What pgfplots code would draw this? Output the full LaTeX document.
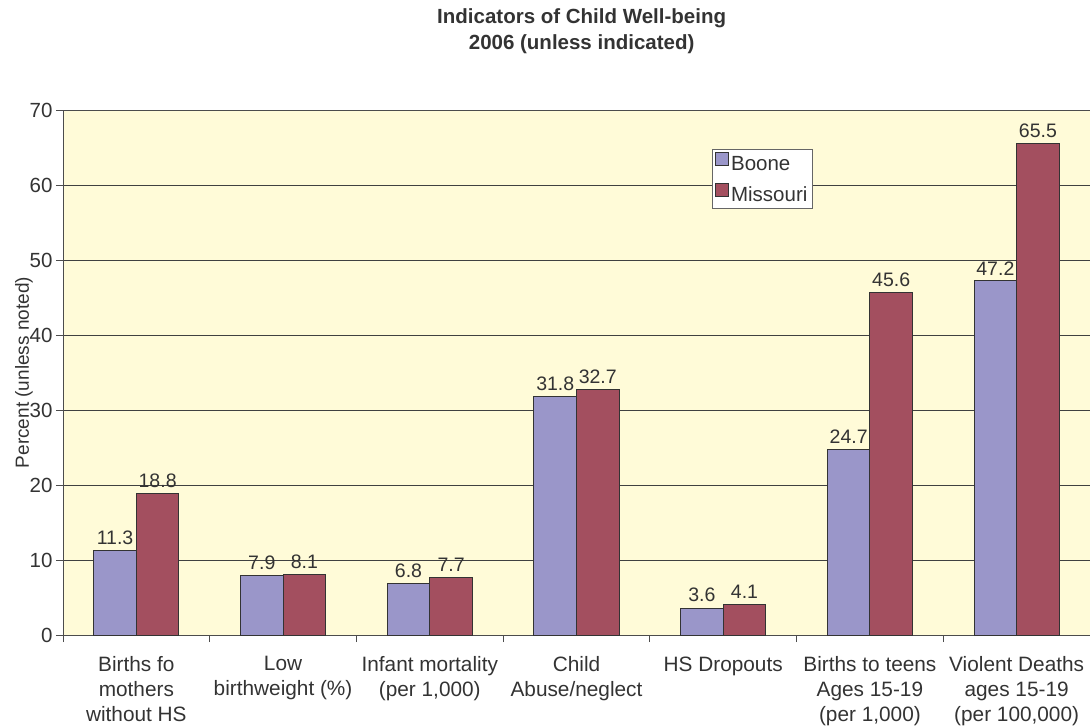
\documentclass[border=0pt]{standalone}
\usepackage{pgfplots}
\pgfplotsset{compat=1.18}
\usepackage{fontspec}
\setmainfont{Liberation Sans}
\definecolor{boone}{HTML}{9A96C9}
\definecolor{mo}{HTML}{A34F5F}
\definecolor{bg}{HTML}{FFFBD8}
\definecolor{txt}{HTML}{333333}
\begin{document}
\begin{tikzpicture}
\begin{axis}[
  scale only axis,
  width=1027pt, height=525pt,
  xmin=-0.5, xmax=6.5, ymin=0, ymax=70,
  axis background/.style={fill=bg},
  ytick={0,10,...,70},
  ymajorgrids, grid style={black!75, line width=0.6pt},
  xtick={0,...,6},
  xticklabels={{Births fo\\mothers\\without HS},{Low\\birthweight (\%)},{Infant mortality\\(per 1,000)},{Child\\Abuse/neglect},{HS Dropouts},{Births to teens\\Ages 15-19\\(per 1,000)},{Violent Deaths\\ages 15-19\\(per 100,000)}},
  minor xtick={-0.5,0.5,...,6.5},
  major x tick style={draw=none},
  tick align=outside, tick pos=left,
  major tick length=7pt, minor tick length=7pt,
  tick style={black!70, line width=0.8pt},
  axis line style={black!70, line width=0.9pt},
  xticklabel style={align=center, font=\fontsize{20.8}{25}\selectfont, text=txt, yshift=-11pt},
  yticklabel style={font=\fontsize{20.5}{24}\selectfont, text=txt},
  /pgf/number format/assume math mode=true,
  ylabel={Percent (unless noted)},
  ylabel style={font=\fontsize{19}{24}\selectfont, text=txt, at={(axis description cs:-0.038,0.5)}, anchor=center},
  title={Indicators of Child Well-being\\2006 (unless indicated)},
  title style={font=\bfseries\fontsize{20.5}{25.5}\selectfont, text=txt, align=center, at={(axis description cs:0.505,1)}, anchor=south, yshift=47pt},
  ybar, bar width=0.29,
  nodes near coords,
  nodes near coords style={font=\fontsize{19.5}{24}\selectfont, text=txt, yshift=2pt},
  point meta=y,
  every node near coord/.append style={/pgf/number format/.cd, fixed, fixed zerofill, precision=1},
  legend style={at={(axis description cs:0.632,0.926)}, anchor=north west, draw=black!60, fill=white, font=\fontsize{20.5}{24}\selectfont, text=txt, inner sep=3pt, row sep=8.5pt, cells={anchor=west}},
  legend image code/.code={\draw[#1, draw=black!80, line width=0.8pt] (0pt,-1pt) rectangle (13pt,12pt);},
]
\addplot[fill=boone, draw=black!80, line width=1pt, bar shift=-0.145] coordinates {(0,11.3) (1,7.9) (2,6.8) (3,31.8) (4,3.6) (5,24.7) (6,47.2)};
\addplot[fill=mo, draw=black!80, line width=1pt, bar shift=0.145] coordinates {(0,18.8) (1,8.1) (2,7.7) (3,32.7) (4,4.1) (5,45.6) (6,65.5)};
\legend{Boone,Missouri}
\end{axis}
\pgfresetboundingbox
\path ([shift={(-63pt,-92pt)}]current axis.south west) rectangle ([shift={(0pt,110pt)}]current axis.north east);
\end{tikzpicture}
\end{document}
